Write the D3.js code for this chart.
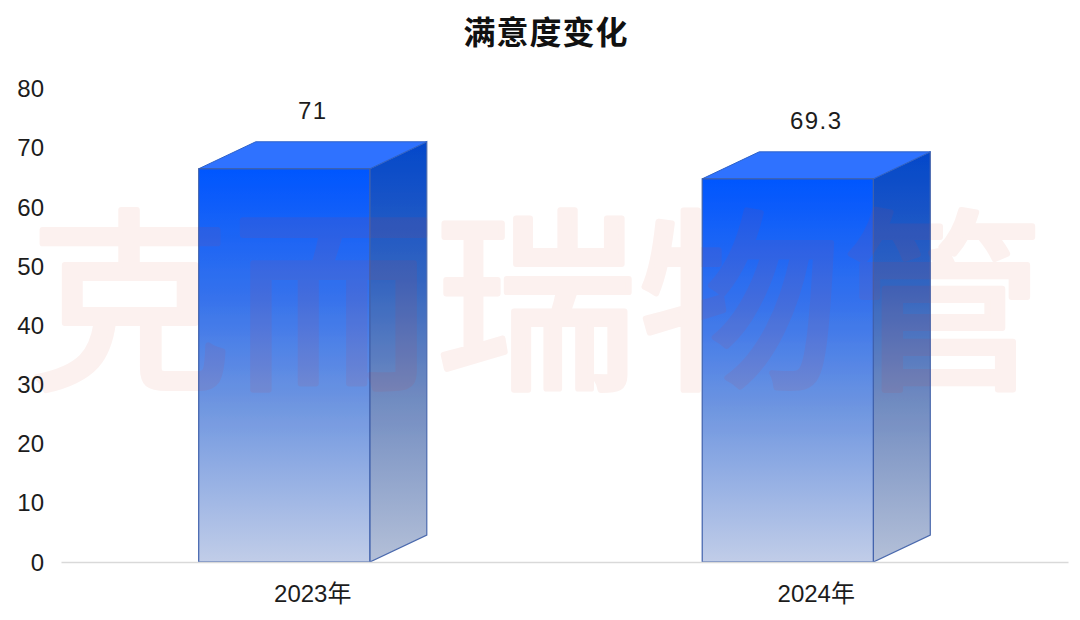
<!DOCTYPE html>
<html><head><meta charset="utf-8">
<script src="https://cdn.jsdelivr.net/npm/d3@7"></script>
<style>html,body{margin:0;padding:0;background:#fff}svg{display:block}
text{font-family:"Liberation Sans",Arial,sans-serif;fill:#1c1c1c}</style></head>
<body><svg id="c" width="1080" height="620"></svg>
<script>
const categories = ["2023年", "2024年"];
const values = [71, 69.3];
const valueLabels = ["71", "69.3"];
const yTicks = [0, 10, 20, 30, 40, 50, 60, 70, 80];
const titleText = "满意度变化";
const watermark = "克而瑞物管";

const svg = d3.select("#c");
const plotLeft = 61, plotRight = 1068, plotTop = 88.5, plotBottom = 562;
const depthX = 57, depthY = 27;
const x = d3.scaleBand().domain(categories).range([plotLeft, plotRight]).paddingInner(0.547).paddingOuter(0.2735);
const y = d3.scaleLinear().domain([0, 80]).range([plotBottom, plotTop]);

const defs = svg.append("defs");
function grad(id, stops){
  const g = defs.append("linearGradient").attr("id", id).attr("x1",0).attr("y1",0).attr("x2",0).attr("y2",1);
  stops.forEach(s => g.append("stop").attr("offset",s[0]).attr("stop-color",s[1]));
}
grad("front", [[0,"#0056ff"],[0.33,"#3773ec"],[0.6,"#6f96e0"],[1,"#c1cde8"]]);
grad("side", [[0,"#0448cb"],[0.33,"#3465c0"],[0.6,"#6f8ac0"],[1,"#b4c0d8"]]);

function drawWatermark(){
  return svg.append("text").text(watermark)
    .attr("transform","translate(537,374) scale(1.012,0.97)").attr("text-anchor","middle")
    .attr("stroke-linejoin","round")
    .style("font-family",'"Noto Sans CJK SC"').style("font-weight",400)
    .style("font-size","200px").style("letter-spacing","1px")
    .style("stroke-width","6px");
}
drawWatermark().style("fill","#fcf1ef").style("stroke","#fcf1ef");

const bars = svg.append("g").selectAll("g").data(categories.map((c,i)=>({c, v:values[i], l:valueLabels[i]}))).join("g");
const fw = d => x.bandwidth() - depthX;
const pts = a => a.map(p=>p.join(",")).join(" ");
bars.append("polygon").attr("fill","url(#side)").attr("stroke","#4a69ad").attr("stroke-width",1.2)
  .attr("points", d=>{const l=x(d.c)+fw(d), t=y(d.v)+depthY;
    return pts([[l,t],[l+depthX,t-depthY],[l+depthX,plotBottom-depthY],[l,plotBottom]]);});
bars.append("polygon").attr("fill","#3073ff").attr("stroke","#2f62c9").attr("stroke-width",1)
  .attr("points", d=>{const l=x(d.c), t=y(d.v)+depthY;
    return pts([[l,t],[l+depthX,t-depthY],[l+fw(d)+depthX,t-depthY],[l+fw(d),t]]);});
bars.append("rect").attr("fill","url(#front)").attr("stroke","#3f60ab").attr("stroke-width",1.2)
  .attr("x", d=>x(d.c)).attr("y", d=>y(d.v)+depthY).attr("width", fw).attr("height", d=>plotBottom-y(d.v)-depthY);
bars.append("text").text(d=>d.l).attr("x", d=>x(d.c)+x.bandwidth()/2).attr("y", d=>y(d.v)-22.5)
  .attr("text-anchor","middle").style("font-size","24px").style("letter-spacing","1.5px");

// watermark showing through the bars
const clip = defs.append("clipPath").attr("id","barsClip");
categories.forEach((c,i)=>{
  clip.append("rect").attr("x",x(c)).attr("y",y(values[i])).attr("width",x.bandwidth()).attr("height",plotBottom-y(values[i]));
});
svg.append("g").attr("clip-path","url(#barsClip)").style("opacity",0.09).node()
  .appendChild(drawWatermark().style("fill","#c03c46").style("stroke","#c03c46").node());

const xAxis = svg.append("g").attr("transform",`translate(0,${plotBottom})`)
  .call(d3.axisBottom(x).tickSize(0).tickPadding(23));
xAxis.select(".domain").attr("stroke","#d9d9d9").attr("stroke-width",1.5);
xAxis.selectAll("text").style("font-size","24px").style("font-family",'"Liberation Sans","Noto Sans CJK SC"').style("fill","#1c1c1c");

const yAxis = svg.append("g").attr("transform",`translate(${plotLeft},0)`)
  .call(d3.axisLeft(y).tickValues(yTicks).tickSize(0).tickPadding(17));
yAxis.select(".domain").remove();
yAxis.selectAll("text").attr("dy","0.34em").style("font-size","24px").style("font-family",'"Liberation Sans"').style("fill","#1c1c1c");

svg.append("text").text(titleText).attr("x",546).attr("y",44).attr("text-anchor","middle")
  .style("font-family",'"Noto Sans CJK SC"').style("font-weight",700).style("font-size","32px").style("letter-spacing","1px").style("fill","#111");
</script></body></html>
